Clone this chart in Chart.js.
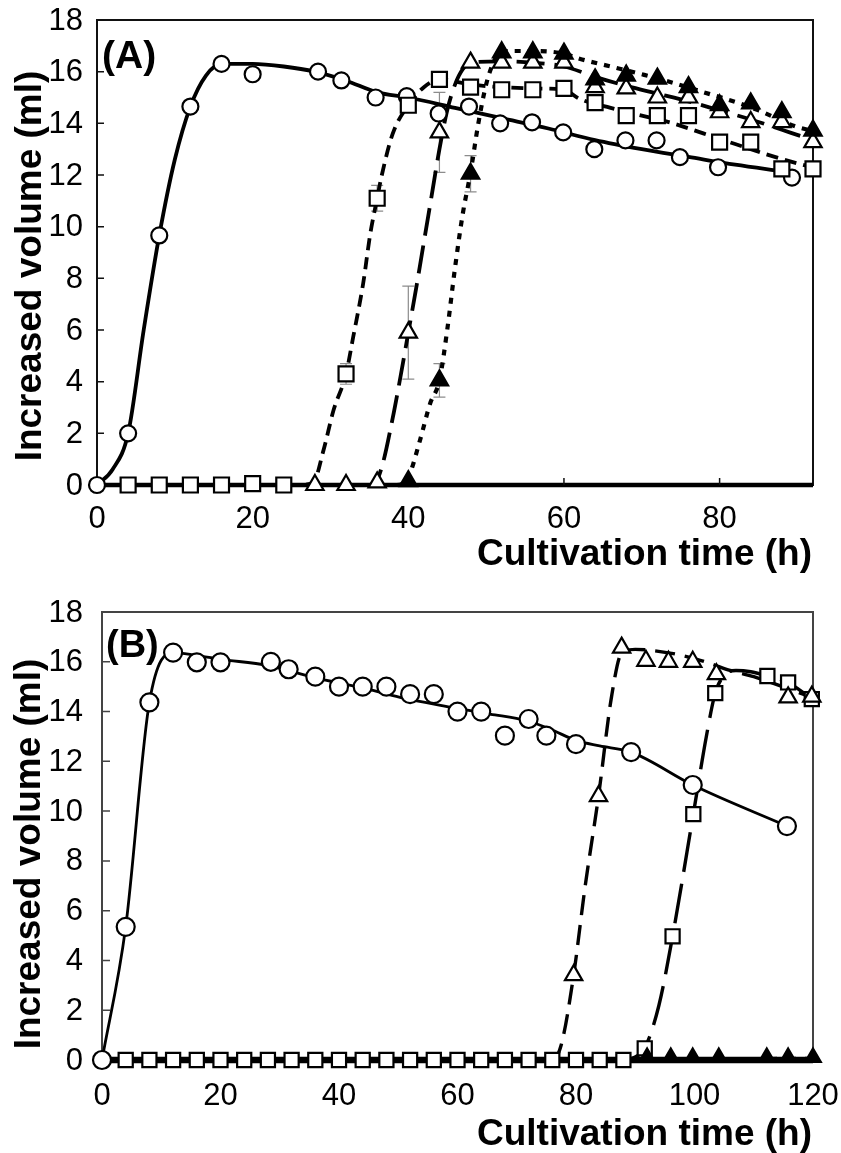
<!DOCTYPE html>
<html>
<head>
<meta charset="utf-8">
<title>Increased volume vs cultivation time</title>
<script src="https://cdn.jsdelivr.net/npm/chart.js@4.4.1/dist/chart.umd.min.js"></script>
<style>
  html, body { margin: 0; padding: 0; background: #fff; }
  #wrap { position: relative; width: 841px; height: 1153px; }
  canvas { position: absolute; left: 0; }
  #ca { top: 0; }
  #cb { top: 576px; }
</style>
</head>
<body>
<div id="wrap">
  <canvas id="ca" width="841" height="576"></canvas>
  <canvas id="cb" width="841" height="577"></canvas>
</div>
<script>
// ---------- Panel A: measured points ----------
const circleA_h  = [0, 4, 8, 12, 16, 20, 28.4, 31.4, 35.8, 39.8, 43.9, 47.8, 51.8, 55.9, 59.9, 63.9, 67.9, 71.9, 74.9, 79.8, 89.3];
const circleA_ml = [0, 2.0, 9.66, 14.65, 16.3, 15.9, 16.0, 15.66, 15.0, 15.05, 14.38, 14.65, 14.0, 14.04, 13.65, 13.0, 13.34, 13.34, 12.69, 12.3, 11.9];

const squareA_h   = [4, 8, 12, 16, 20, 24, 32, 36, 40, 44, 48, 52, 56, 60, 64, 68, 72, 76, 80, 84, 88, 92];
const squareA_ml  = [0, 0, 0, 0, 0.05, 0, 4.3, 11.1, 14.7, 15.7, 15.4, 15.3, 15.3, 15.35, 14.8, 14.3, 14.3, 14.3, 13.27, 13.27, 12.24, 12.24];
const squareA_err = [0, 0, 0, 0, 0, 0, 0.4, 0.5, 0, 0, 0, 0, 0, 0, 0, 0, 0, 0, 0, 0, 0, 0];

const openTriA_h   = [28, 32, 36, 40, 44, 48, 52, 56, 60, 64, 68, 72, 76, 80, 84, 88, 92];
const openTriA_ml  = [0, 0, 0.1, 5.9, 13.65, 16.35, 16.35, 16.35, 16.35, 15.4, 15.35, 15.0, 15.0, 14.43, 14.05, 14.05, 13.27];
const openTriA_err = [0, 0, 0, 1.8, 1.55, 0, 0, 0, 0, 0, 0, 0, 0, 0, 0, 0, 0];

const fillTriA_h   = [40, 44, 48, 52, 56, 60, 64, 68, 72, 76, 80, 84, 88, 92];
const fillTriA_ml  = [0.15, 4.05, 12.05, 16.75, 16.75, 16.7, 15.7, 15.85, 15.73, 15.4, 14.7, 14.77, 14.43, 13.72];
const fillTriA_err = [0, 0.65, 0.7, 0, 0, 0, 0, 0, 0, 0, 0, 0, 0, 0];

// ---------- Panel A: fitted curves ----------
const circleA_fit_h  = [0, 2, 4, 6, 8, 10, 12, 14, 16, 20, 24, 28, 32, 36, 40, 46, 52, 58, 64, 70, 76, 82, 88];
const circleA_fit_ml = [0, 0.6, 2.0, 6.0, 9.66, 12.6, 14.65, 15.85, 16.3, 16.3, 16.2, 16.0, 15.65, 15.2, 15.0, 14.6, 14.2, 13.8, 13.35, 13.0, 12.7, 12.4, 12.15];

const squareA_fit_h  = [0, 24, 26, 27.8, 29.1, 30.4, 32, 32.9, 34.2, 35.1, 36, 36.6, 38, 40, 42, 44, 48, 52, 56, 60, 62, 66, 70, 74, 78, 82, 86, 90, 92];
const squareA_fit_ml = [0, 0, 0, 0.1, 1.34, 2.9, 4.3, 5.7, 7.8, 9.7, 11.1, 12.0, 13.6, 14.7, 15.4, 15.7, 15.5, 15.4, 15.35, 15.3, 14.95, 14.6, 14.3, 14.0, 13.6, 13.2, 12.8, 12.45, 12.3];

const openTriA_fit_h  = [0, 35.5, 36.6, 38, 39, 40, 41, 42, 43, 44, 45, 46, 47, 48, 52, 56, 60, 64, 68, 72, 76, 80, 84, 88, 92];
const openTriA_fit_ml = [0, 0, 0.7, 2.6, 4.2, 5.9, 7.6, 9.4, 11.2, 13.0, 14.5, 15.5, 16.1, 16.35, 16.4, 16.35, 16.2, 15.8, 15.45, 15.15, 14.85, 14.5, 14.15, 13.75, 13.35];

const fillTriA_fit_h  = [0, 38.5, 40, 41.5, 42.8, 44, 45, 46, 47, 48, 49, 50, 51, 52, 56, 60, 62, 66, 70, 73, 78, 82.6, 85, 89.6, 92];
const fillTriA_fit_ml = [0, 0, 0.3, 1.73, 3.15, 4.05, 6.0, 8.4, 10.5, 12.1, 14.0, 15.5, 16.4, 16.8, 16.8, 16.7, 16.5, 16.2, 15.9, 15.66, 15.2, 14.77, 14.5, 13.9, 13.7];

// ---------- Panel B: measured points ----------
const circleB_h  = [0, 4, 8, 12, 16, 20, 28.5, 31.5, 36, 40, 44, 48, 52, 56, 60, 64, 68, 72, 75, 80, 89.3, 99.7, 115.6];
const circleB_ml = [0, 5.35, 14.37, 16.37, 15.98, 15.98, 16.0, 15.7, 15.4, 15.0, 15.0, 15.0, 14.7, 14.7, 14.0, 14.0, 13.03, 13.7, 13.03, 12.69, 12.37, 11.05, 9.4];

const squareB_h  = [4, 8, 12, 16, 20, 24, 28, 32, 36, 40, 44, 48, 52, 56, 60, 64, 68, 72, 76, 80, 84, 88, 91.6, 96.3, 99.8, 103.5, 112.3, 115.8, 119.8];
const squareB_ml = [0, 0, 0, 0, 0, 0, 0, 0, 0, 0, 0, 0, 0, 0, 0, 0, 0, 0, 0, 0, 0, 0, 0.47, 4.97, 9.88, 14.74, 15.43, 15.17, 14.5];

const openTriB_h  = [79.6, 83.8, 87.7, 91.8, 95.6, 99.7, 103.7, 115.8, 119.8];
const openTriB_ml = [3.41, 10.6, 16.57, 16.04, 16.0, 16.0, 15.5, 14.57, 14.6];

const fillTriB_h  = [92, 96, 99.7, 104.1, 112.2, 115.8, 120];
const fillTriB_ml = [0.1, 0.1, 0.1, 0.1, 0.1, 0.1, 0.1];

// ---------- Panel B: fitted curves ----------
const circleB_fit_h  = [0, 4, 8, 12, 16, 20, 28, 36, 44, 50.3, 57.6, 65.5, 71.7, 75.6, 80.1, 84, 89.3, 99.7, 115.6];
const circleB_fit_ml = [0, 5.35, 14.37, 16.37, 16.25, 16.1, 15.85, 15.35, 14.95, 14.57, 14.23, 13.9, 13.63, 13.3, 12.83, 12.62, 12.37, 11.05, 9.4];

const openTriB_fit_h  = [0, 76, 77.5, 79.6, 81.5, 83.8, 86, 87.7, 90, 93, 97, 100.4, 103, 106, 110, 116, 120];
const openTriB_fit_ml = [0, 0, 0.6, 3.41, 6.9, 10.6, 14.6, 16.35, 16.5, 16.45, 16.3, 16.1, 15.9, 15.65, 15.4, 14.9, 14.55];

const squareB_fit_h  = [0, 88, 90, 91.6, 94, 96.3, 99.8, 102, 103.5, 105, 107, 109.5, 112.3, 115.8, 119.8];
const squareB_fit_ml = [0, 0, 0.12, 0.47, 2.2, 4.97, 9.88, 13.0, 14.74, 15.45, 15.65, 15.6, 15.43, 15.17, 14.5];

const fillTriB_fit_h  = [0, 120];
const fillTriB_fit_ml = [0, 0.08];

// ---------- Axes ----------
const yTickValues  = [0, 2, 4, 6, 8, 10, 12, 14, 16, 18];
const xTickValuesA = [0, 20, 40, 60, 80];
const xTickValuesB = [0, 20, 40, 60, 80, 100, 120];
const yTitle = 'Increased volume (ml)';
const xTitle = 'Cultivation time (h)';

const FONT = '"Liberation Sans", Arial, Helvetica, sans-serif';

const pts = (xs, ys) => xs.map((t, i) => ({ x: t, y: ys[i] }));

function markers(xs, ys, style, filled, radius, errs) {
  return {
    data: pts(xs, ys),
    showLine: false,
    pointStyle: style,
    pointRadius: radius,
    pointBackgroundColor: filled ? '#000' : '#fff',
    pointBorderColor: '#000',
    pointBorderWidth: 2.2,
    clip: false,
    errorBars: errs || null
  };
}

function curve(xs, ys, width, dash) {
  return {
    data: pts(xs, ys),
    showLine: true,
    borderColor: '#000',
    borderWidth: width,
    borderDash: dash,
    borderCapStyle: 'butt',
    pointRadius: 0,
    cubicInterpolationMode: 'monotone',
    fill: false,
    clip: false
  };
}

// Frame, inside tick marks, error bars, tick labels and titles
const framePlugin = {
  id: 'frame',
  beforeDatasetsDraw(chart, args, o) {
    const { ctx, chartArea: a, scales: { x, y } } = chart;
    ctx.save();
    ctx.strokeStyle = o.boxColor;
    ctx.lineWidth = o.boxWidth;
    ctx.strokeRect(a.left, a.top, a.right - a.left, a.bottom - a.top);
    ctx.strokeStyle = '#000';
    ctx.lineWidth = o.axisWidth;
    ctx.beginPath();
    ctx.moveTo(a.left, a.bottom);
    ctx.lineTo(a.right, a.bottom);
    ctx.stroke();

    ctx.lineWidth = 1.5;
    ctx.strokeStyle = o.boxColor;
    ctx.beginPath();
    o.yTicks.forEach(v => {
      const py = y.getPixelForValue(v);
      ctx.moveTo(a.left, py);
      ctx.lineTo(a.left + o.tickLen, py);
    });
    o.xTicks.forEach(v => {
      const px = x.getPixelForValue(v);
      if (px <= a.left + 1 || px >= a.right - 1) return;
      ctx.moveTo(px, a.bottom);
      ctx.lineTo(px, a.bottom - o.tickLen);
    });
    ctx.stroke();

    // error bars
    ctx.strokeStyle = '#8c8c8c';
    ctx.lineWidth = 1.2;
    chart.data.datasets.forEach(ds => {
      if (!ds.errorBars) return;
      ds.data.forEach((p, i) => {
        const e = ds.errorBars[i];
        if (!e) return;
        const px = x.getPixelForValue(p.x);
        const top = y.getPixelForValue(p.y + e);
        const bot = y.getPixelForValue(p.y - e);
        ctx.beginPath();
        ctx.moveTo(px, top); ctx.lineTo(px, bot);
        ctx.moveTo(px - 6, top); ctx.lineTo(px + 6, top);
        ctx.moveTo(px - 6, bot); ctx.lineTo(px + 6, bot);
        ctx.stroke();
      });
    });
    ctx.restore();
  },
  afterDraw(chart, args, o) {
    const { ctx, chartArea: a, scales: { x, y } } = chart;
    ctx.save();
    ctx.fillStyle = '#000';
    ctx.font = `${o.tickFont}px ${FONT}`;
    ctx.textBaseline = 'middle';
    ctx.textAlign = 'right';
    o.yTicks.forEach(v => ctx.fillText(String(v), o.yLabelRight, y.getPixelForValue(v) + 1));
    ctx.textAlign = 'center';
    o.xTicks.forEach(v => ctx.fillText(String(v), x.getPixelForValue(v), a.bottom + o.xLabelGap));

    ctx.font = `bold ${o.titleFont}px ${FONT}`;
    ctx.textBaseline = 'alphabetic';
    ctx.textAlign = 'right';
    ctx.fillText(o.xTitle, a.right - 1, o.xTitleBaseline);

    ctx.save();
    ctx.translate(o.yTitleBaselineX, o.yTitleCenter);
    ctx.rotate(-Math.PI / 2);
    ctx.textAlign = 'center';
    ctx.fillText(o.yTitle, 0, 0);
    ctx.restore();

    ctx.font = `bold ${o.tagFont}px ${FONT}`;
    ctx.textAlign = 'left';
    ctx.fillText(o.tag, o.tagX, o.tagBaseline);
    ctx.restore();
  }
};

function makeChart(canvas, spec) {
  return new Chart(canvas, {
    type: 'scatter',
    data: { datasets: spec.datasets },
    options: {
      responsive: false,
      animation: false,
      events: [],
      layout: { padding: { left: 0, right: spec.padRight, top: spec.padTop, bottom: 0 } },
      plugins: { legend: { display: false }, tooltip: { enabled: false }, frame: spec.frame },
      scales: {
        x: {
          type: 'linear', min: spec.xMin, max: spec.xMax,
          ticks: { display: false }, grid: { display: false }, border: { display: false },
          afterFit: s => { s.height = spec.xAxisHeight; }
        },
        y: {
          type: 'linear', min: 0, max: 18,
          ticks: { display: false }, grid: { display: false }, border: { display: false },
          afterFit: s => { s.width = spec.yAxisWidth; }
        }
      }
    },
    plugins: [framePlugin]
  });
}

// Panel A
makeChart(document.getElementById('ca'), {
  xMin: 0, xMax: 92, padRight: 28, padTop: 20, xAxisHeight: 91, yAxisWidth: 97,
  datasets: [
    markers(fillTriA_h, fillTriA_ml, 'triangle', true, 10, fillTriA_err),
    markers(openTriA_h, openTriA_ml, 'triangle', false, 10, openTriA_err),
    markers(squareA_h, squareA_ml, 'rect', false, 10.6, squareA_err),
    markers(circleA_h, circleA_ml, 'circle', false, 8),
    curve(fillTriA_fit_h, fillTriA_fit_ml, 4.2, [6, 7]),
    curve(openTriA_fit_h, openTriA_fit_ml, 3.8, [28, 10]),
    curve(squareA_fit_h, squareA_fit_ml, 3.8, [12, 7]),
    curve(circleA_fit_h, circleA_fit_ml, 3.8, [])
  ],
  frame: {
    boxColor: '#111', boxWidth: 2, axisWidth: 4.5, tickLen: 7,
    yTicks: yTickValues, xTicks: xTickValuesA,
    tickFont: 31, yLabelRight: 83, xLabelGap: 34,
    titleFont: 37, xTitle: xTitle, xTitleBaseline: 565,
    yTitle: yTitle, yTitleBaselineX: 41, yTitleCenter: 266,
    tag: '(A)', tagFont: 39, tagX: 102, tagBaseline: 68
  }
});

// Panel B
makeChart(document.getElementById('cb'), {
  xMin: 0, xMax: 120, padRight: 28, padTop: 36, xAxisHeight: 93, yAxisWidth: 102,
  datasets: [
    markers(fillTriB_h, fillTriB_ml, 'triangle', true, 9),
    markers(openTriB_h, openTriB_ml, 'triangle', false, 10),
    markers(squareB_h, squareB_ml, 'rect', false, 10),
    markers(circleB_h, circleB_ml, 'circle', false, 9),
    curve(fillTriB_fit_h, fillTriB_fit_ml, 2.5, [10, 9]),
    curve(openTriB_fit_h, openTriB_fit_ml, 3.4, [20, 10]),
    curve(squareB_fit_h, squareB_fit_ml, 3.4, [40, 12]),
    curve(circleB_fit_h, circleB_fit_ml, 2.8, [])
  ],
  frame: {
    boxColor: '#444', boxWidth: 2, axisWidth: 6.5, tickLen: 8,
    yTicks: yTickValues, xTicks: xTickValuesB,
    tickFont: 31, yLabelRight: 83, xLabelGap: 36,
    titleFont: 37, xTitle: xTitle, xTitleBaseline: 569,
    yTitle: yTitle, yTitleBaselineX: 40, yTitleCenter: 278,
    tag: '(B)', tagFont: 38, tagX: 106, tagBaseline: 81
  }
});
</script>
</body>
</html>
